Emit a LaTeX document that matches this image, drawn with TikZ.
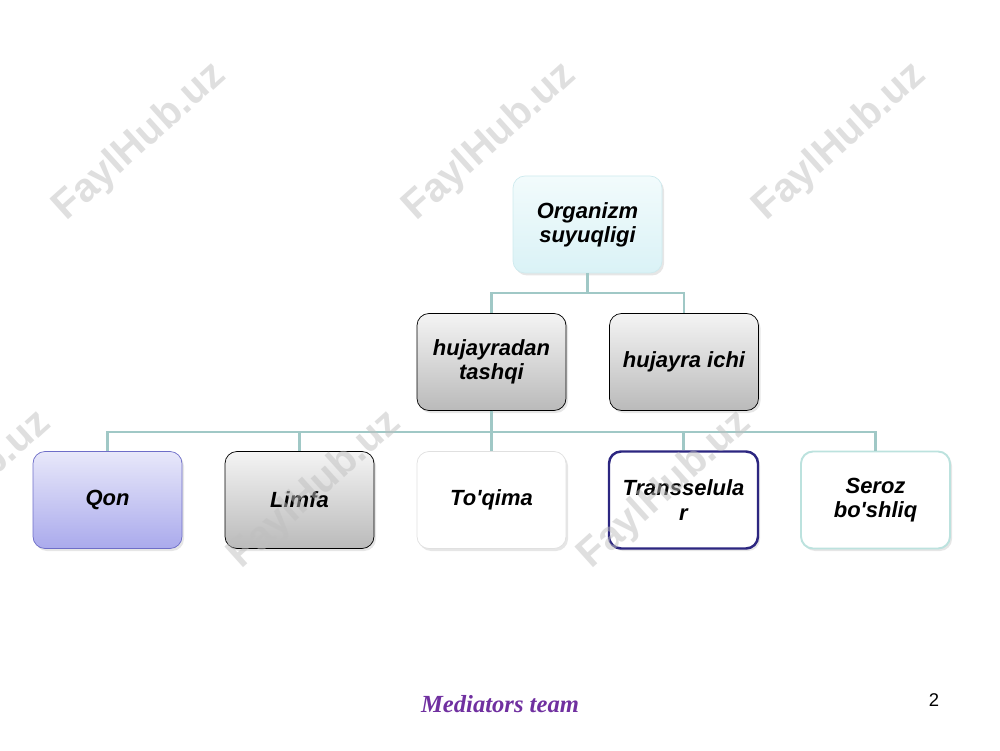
\documentclass[tikz,border=0pt]{standalone}
\usepackage{fontspec}
\setmainfont{Liberation Sans}
\newfontfamily\footfont{Liberation Serif}
\usepackage{tikz}
\usetikzlibrary{calc,shadows}
\usepackage{xcolor}
\definecolor{linkteal}{RGB}{160,200,198}
\definecolor{cyantop}{RGB}{242,251,252}
\definecolor{cyanbot}{RGB}{218,242,246}
\definecolor{cyanedge}{RGB}{206,234,238}
\definecolor{graytop}{RGB}{244,244,244}
\definecolor{graybot}{RGB}{186,186,186}
\definecolor{lavtop}{RGB}{232,232,250}
\definecolor{lavbot}{RGB}{170,170,236}
\definecolor{lavedge}{RGB}{110,110,200}
\definecolor{navyedge}{RGB}{44,38,128}
\definecolor{tealedge}{RGB}{188,226,222}
\definecolor{footpurple}{RGB}{112,48,160}

\begin{document}
\begin{tikzpicture}[
    box/.style={rounded corners=0.24cm,minimum width=2.98cm,minimum height=1.94cm,
        align=center,font=\fontsize{12.5}{13.8}\selectfont\bfseries\itshape,
        drop shadow={opacity=0.2,shadow xshift=0.04cm,shadow yshift=-0.05cm}},
    cyanbox/.style={box,draw=cyanedge,top color=cyantop,bottom color=cyanbot},
    graybox/.style={box,draw=black,top color=graytop,bottom color=graybot},
    lavbox/.style={box,draw=lavedge,top color=lavtop,bottom color=lavbot},
    whitebox/.style={box,draw=black!12,fill=white},
    navybox/.style={box,draw=navyedge,line width=1.4pt,fill=white},
    tealbox/.style={box,draw=tealedge,line width=1.1pt,fill=white},
    conn/.style={draw=linkteal,line width=1.3pt},
    wmark/.style={text=gray!50,opacity=0.5,rotate=42,
        font=\fontsize{23}{23}\selectfont\bfseries}]
    \useasboundingbox (0,0) rectangle (20,15);
    \clip (0,0) rectangle (20,15);

    % Top level
    \node[cyanbox] (org) at (11.75,10.51) {Organizm\\suyuqligi};

    % Second level
    \node[graybox] (tashqi) at (9.83,7.76) {hujayradan\\tashqi};
    \node[graybox] (ichi) at (13.68,7.76) {hujayra ichi};

    % Third level
    \node[lavbox] (qon) at (2.15,5.0) {Qon};
    \node[graybox] (limfa) at (5.99,5.0) {Limfa};
    \node[whitebox] (toqima) at (9.83,5.0) {To\textquotesingle qima};
    \node[navybox] (trans) at (13.67,5.0) {Transselula\\r};
    \node[tealbox] (seroz) at (17.51,5.0) {Seroz\\bo\textquotesingle shliq};

    % Links
    \foreach \kid in {tashqi,ichi}
        \draw[conn] (org.south) -- ++(0,-0.4) -| (\kid.north);
    \foreach \kid in {qon,limfa,toqima,trans,seroz}
        \draw[conn] (tashqi.south) -- ++(0,-0.42) -| (\kid.north);

    % Footer
    \node[text=footpurple,font=\footfont\fontsize{14}{16}\selectfont\bfseries\itshape] (foot) at (10.0,0.92) {Mediators team};
    \node[font=\fontsize{10.5}{12}\selectfont] (page) at (18.68,1.0) {2};

    % Watermarks
    \foreach \wx/\wy [count=\i] in {2.8/12.16,9.8/12.16,16.8/12.16,-0.7/5.2,6.3/5.2,13.3/5.2}
        \node[wmark] (wm\i) at (\wx,\wy) {FaylHub.uz};
\end{tikzpicture}
\end{document}
